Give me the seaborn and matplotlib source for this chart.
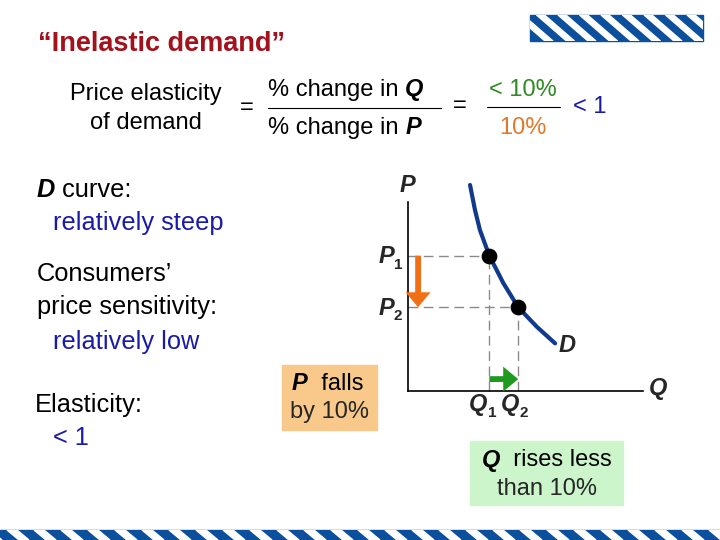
import numpy as np
import matplotlib
matplotlib.use("Agg")
import matplotlib.pyplot as plt
import matplotlib.patches as mpatches
import seaborn as sns

# demand curve (Q, P in axis units 0-100)
demand_q = [26.4, 28.5, 30.6, 34.6, 40.6, 46.9, 54.8, 62.6]
demand_p = [109.0, 95.8, 85.2, 71.6, 57.0, 44.3, 34.0, 25.2]
# the two marked points (Q1,P1) and (Q2,P2)
point_q = [34.6, 46.9]
point_p = [71.6, 44.3]
price_labels = ["1", "2"]
qty_labels = ["1", "2"]

NAVY = "#113a8f"
BLUE = "#1a1aa8"
GREEN = "#2e8b22"
ORANGE = "#e07a2a"
RED = "#a3121c"
STRIPE = "#0c4f9c"

sns.set_theme(style="white")
plt.rcParams["font.family"] = ["Liberation Sans", "DejaVu Sans"]

fig = plt.figure(figsize=(7.2, 5.4), dpi=100)

# slide layer in pixel coordinates
slide = fig.add_axes([0, 0, 1, 1])
slide.set_xlim(0, 720)
slide.set_ylim(540, 0)
slide.axis("off")


def mixed(ax, x, y, parts, size):
    """place a run of (text, weight, style, color) pieces next to each other"""
    prev = None
    for txt, weight, style, color in parts:
        if prev is None:
            prev = ax.text(x, y, txt, fontsize=size, fontweight=weight,
                           fontstyle=style, color=color, ha="left", va="center")
        else:
            prev = ax.annotate(txt, xy=(1, 0), xycoords=prev, fontsize=size,
                               fontweight=weight, fontstyle=style, color=color,
                               ha="left", va="bottom")


# decorative stripes: logo top right and band at the bottom
logo = mpatches.Rectangle((530, 15), 173, 26, color=STRIPE, zorder=1)
slide.add_patch(logo)
for x0 in np.arange(515, 720, 21.5):
    p = mpatches.Polygon([(x0, 15), (x0 + 8, 15), (x0 + 38, 41), (x0 + 30, 41)],
                         color="white", zorder=2)
    slide.add_patch(p)
    p.set_clip_path(logo)
band = mpatches.Rectangle((0, 530), 720, 10, color=STRIPE, zorder=1)
slide.add_patch(band)
for x0 in np.arange(-20, 730, 27):
    p = mpatches.Polygon([(x0, 530), (x0 + 10, 530), (x0 + 22, 540), (x0 + 12, 540)],
                         color="white", zorder=2)
    slide.add_patch(p)
    p.set_clip_path(band)

# title
slide.text(38, 44, "\u201cInelastic demand\u201d", fontsize=19.5, fontweight="bold",
           color=RED, ha="left", va="center")

# formula line
fs = 17
slide.text(146, 94, "Price elasticity", fontsize=fs, ha="center", va="center", color="black")
slide.text(146, 123, "of demand", fontsize=fs, ha="center", va="center", color="black")
slide.text(247, 108, "=", fontsize=fs, ha="center", va="center", color="black")
mixed(slide, 268, 90, [("% change in ", "normal", "normal", "black"),
                       ("Q", "bold", "italic", "black")], fs)
mixed(slide, 268, 128, [("% change in ", "normal", "normal", "black"),
                        ("P", "bold", "italic", "black")], fs)
slide.plot([268, 441], [108, 108], color="black", lw=0.8)
slide.text(460, 106, "=", fontsize=fs, ha="center", va="center", color="black")
slide.text(523, 90, "< 10%", fontsize=fs, ha="center", va="center", color=GREEN)
slide.text(523, 128, "10%", fontsize=fs, ha="center", va="center", color=ORANGE)
slide.plot([487, 560], [107, 107], color="black", lw=0.8)
slide.text(573, 107, "< 1", fontsize=fs, ha="left", va="center", color=BLUE)

# left hand notes
ls = 18.3
mixed(slide, 37, 190, [("D", "bold", "italic", "black"),
                       (" curve:", "normal", "normal", "black")], ls)
slide.text(53, 223, "relatively steep", fontsize=ls, color=BLUE, va="center")
slide.text(37, 274, "Consumers\u2019", fontsize=ls, color="black", va="center")
slide.text(37, 307, "price sensitivity:", fontsize=ls, color="black", va="center")
slide.text(53, 342, "relatively low", fontsize=ls, color=BLUE, va="center")
slide.text(35, 405, "Elasticity:", fontsize=ls, color="black", va="center")
slide.text(53, 438, "< 1", fontsize=ls, color=BLUE, va="center")

# coloured boxes
bs = 17
slide.add_patch(mpatches.Rectangle((282, 365), 95, 65, color="#f9c98c", zorder=1))
mixed(slide, 292, 383, [("P", "bold", "italic", "black"),
                        ("  falls", "normal", "normal", "black")], bs)
slide.text(329, 412, "by 10%", fontsize=bs, ha="center", va="center")
slide.add_patch(mpatches.Rectangle((470, 441), 153, 64, color="#ccf5cc", zorder=1))
mixed(slide, 482, 460, [("Q", "bold", "italic", "black"),
                        ("  rises less", "normal", "normal", "black")], bs)
slide.text(547, 489, "than 10%", fontsize=bs, ha="center", va="center")

# demand diagram
ax = fig.add_axes([408 / 720, (540 - 391) / 540, 235 / 720, 189 / 540])
ax.set_xlim(0, 100)
ax.set_ylim(0, 100)
ax.patch.set_alpha(0)
for side in ["top", "right"]:
    ax.spines[side].set_visible(False)
for side in ["left", "bottom"]:
    ax.spines[side].set_color("black")
    ax.spines[side].set_linewidth(1.2)
ax.set_xticks([])
ax.set_yticks([])

for q, p in zip(point_q, point_p):
    ax.plot([0, q], [p, p], color="#8a8a8a", lw=1, dashes=(7, 4))
    ax.plot([q, q], [0, p], color="#8a8a8a", lw=1, dashes=(7, 4))

sns.lineplot(x=demand_q, y=demand_p, sort=False, estimator=None,
             color=NAVY, lw=3, ax=ax)
for l in ax.lines:
    l.set_clip_on(False)
sns.scatterplot(x=point_q, y=point_p, color="black", s=110, edgecolor="black",
                zorder=5, ax=ax, clip_on=False)

ax.annotate("", xy=(4.3, point_p[1]), xytext=(4.3, point_p[0]),
            arrowprops=dict(arrowstyle="simple,head_width=1.5,head_length=0.9,tail_width=0.35",
                            color="#f07018", lw=0, shrinkA=0, shrinkB=0))
ax.annotate("", xy=(point_q[1], 6.3), xytext=(point_q[0], 6.3),
            arrowprops=dict(arrowstyle="simple,head_width=1.5,head_length=0.9,tail_width=0.35",
                            color="#1f9a1f", lw=0, shrinkA=0, shrinkB=0))

# axis and point labels
gs = 17
slide.text(407, 185, "P", fontsize=gs, fontweight="bold", fontstyle="italic", ha="center", va="center")
slide.text(658, 388, "Q", fontsize=gs, fontweight="bold", fontstyle="italic", ha="center", va="center")
slide.text(567, 345, "D", fontsize=gs, fontweight="bold", fontstyle="italic", ha="center", va="center")
for p, lab in zip(point_p, price_labels):
    ypx = 391 - p * 1.89
    slide.text(386, ypx + 1, "P", fontsize=gs, fontweight="bold", fontstyle="italic", ha="center", va="center")
    slide.text(398, ypx + 9, lab, fontsize=11, fontweight="bold", ha="center", va="center")
for q, lab, shift in zip(point_q, qty_labels, [-11, -8]):
    xpx = 408 + q * 2.35 + shift
    slide.text(xpx, 405, "Q", fontsize=gs, fontweight="bold", fontstyle="italic", ha="center", va="center")
    slide.text(xpx + 14, 413, lab, fontsize=11, fontweight="bold", ha="center", va="center")

fig.savefig("out.png", dpi=100)
